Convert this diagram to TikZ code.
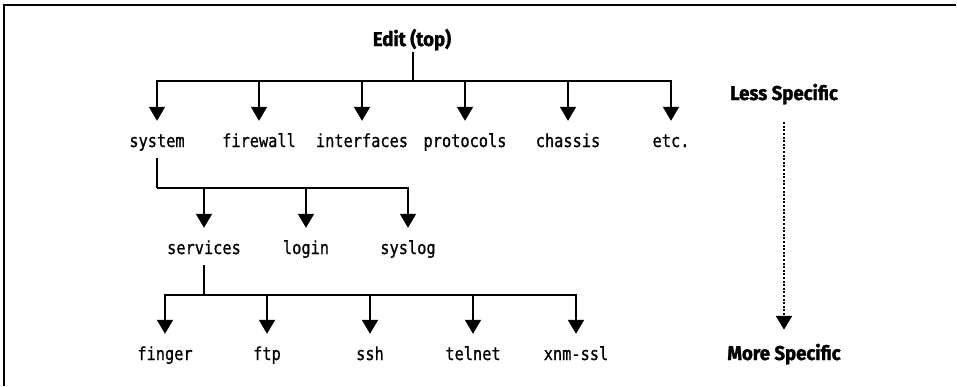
\documentclass[tikz,border=0pt]{standalone}
\usepackage{fontspec}
\usetikzlibrary{arrows.meta}
\newfontfamily\codefont[FakeStretch=0.85,FakeBold=0.8]{DejaVu Sans Mono}
\newfontfamily\headfont[FakeStretch=0.93,FakeBold=1.4]{Fira Sans}

\tikzset{
  x=1pt, y=-1pt,
  lab/.style={font=\codefont\fontsize{18}{21}\selectfont, anchor=base,
    inner xsep=0pt, inner ysep=0pt, text height=12pt, text depth=4pt},
  head/.style={font=\headfont\bfseries\fontsize{20}{23}\selectfont, anchor=base,
    inner xsep=0pt, inner ysep=0pt, text height=13pt, text depth=4pt},
  tip/.style={-{Triangle[width=16pt,length=14pt]}},
  wire/.style={line width=1.8pt, line join=miter},
  down/.style={wire, tip, shorten >=14pt},
  stem/.style={wire, shorten <=7pt},
  trend/.style={line width=2.4pt, dash pattern=on 2pt off 1.6pt, tip},
  frame/.style={line width=1.6pt}
}

\begin{document}
\begin{tikzpicture}
  \useasboundingbox (0,0) rectangle (957,386);
  % partial frame: top and left edges
  \draw[frame] (956,5) -- (4,5) -- (4,386);

  % root
  \node[head] (edit) at (412,46) {Edit (top)};

  % first level
  \node[lab] (system)     at (157,147) {system};
  \node[lab] (firewall)   at (259,147) {firewall};
  \node[lab] (interfaces) at (362,147) {interfaces};
  \node[lab] (protocols)  at (465,147) {protocols};
  \node[lab] (chassis)    at (568,147) {chassis};
  \node[lab] (etc)        at (671,147) {etc.};

  % second level under system
  \node[lab] (services) at (204,254) {services};
  \node[lab] (login)    at (306,254) {login};
  \node[lab] (syslog)   at (408,254) {syslog};

  % third level under services
  \node[lab] (finger) at (165,360) {finger};
  \node[lab] (ftp)    at (267,360) {ftp};
  \node[lab] (ssh)    at (370,360) {ssh};
  \node[lab] (telnet) at (473,360) {telnet};
  \node[lab] (xnmssl) at (576,360) {xnm-ssl};

  % specificity scale
  \node[head] (less) at (784,100) {Less Specific};
  \node[head] (more) at (784,360) {More Specific};

  % bus junctions
  \coordinate (b1) at (413,81);
  \coordinate (b2) at (157,188);
  \coordinate (b3) at (204,295);

  % edit -> first level
  \draw[wire, shorten <=2pt] (edit.south -| b1) -- (b1);
  \foreach \n in {system,firewall,interfaces,protocols,chassis,etc}
    \draw[down] (b1) -| (\n.north);

  % system -> second level
  \draw[stem] (system.south) -- (b2);
  \foreach \n in {services,login,syslog}
    \draw[down] (b2) -| (\n.north);

  % services -> third level
  \draw[stem] (services.south) -- (b3);
  \foreach \n in {finger,ftp,ssh,telnet,xnmssl}
    \draw[down] (b3) -| (\n.north);

  % dotted trend arrow
  \draw[trend, shorten <=18pt, shorten >=17pt] (less.south) -- (more.north);
\end{tikzpicture}
\end{document}
